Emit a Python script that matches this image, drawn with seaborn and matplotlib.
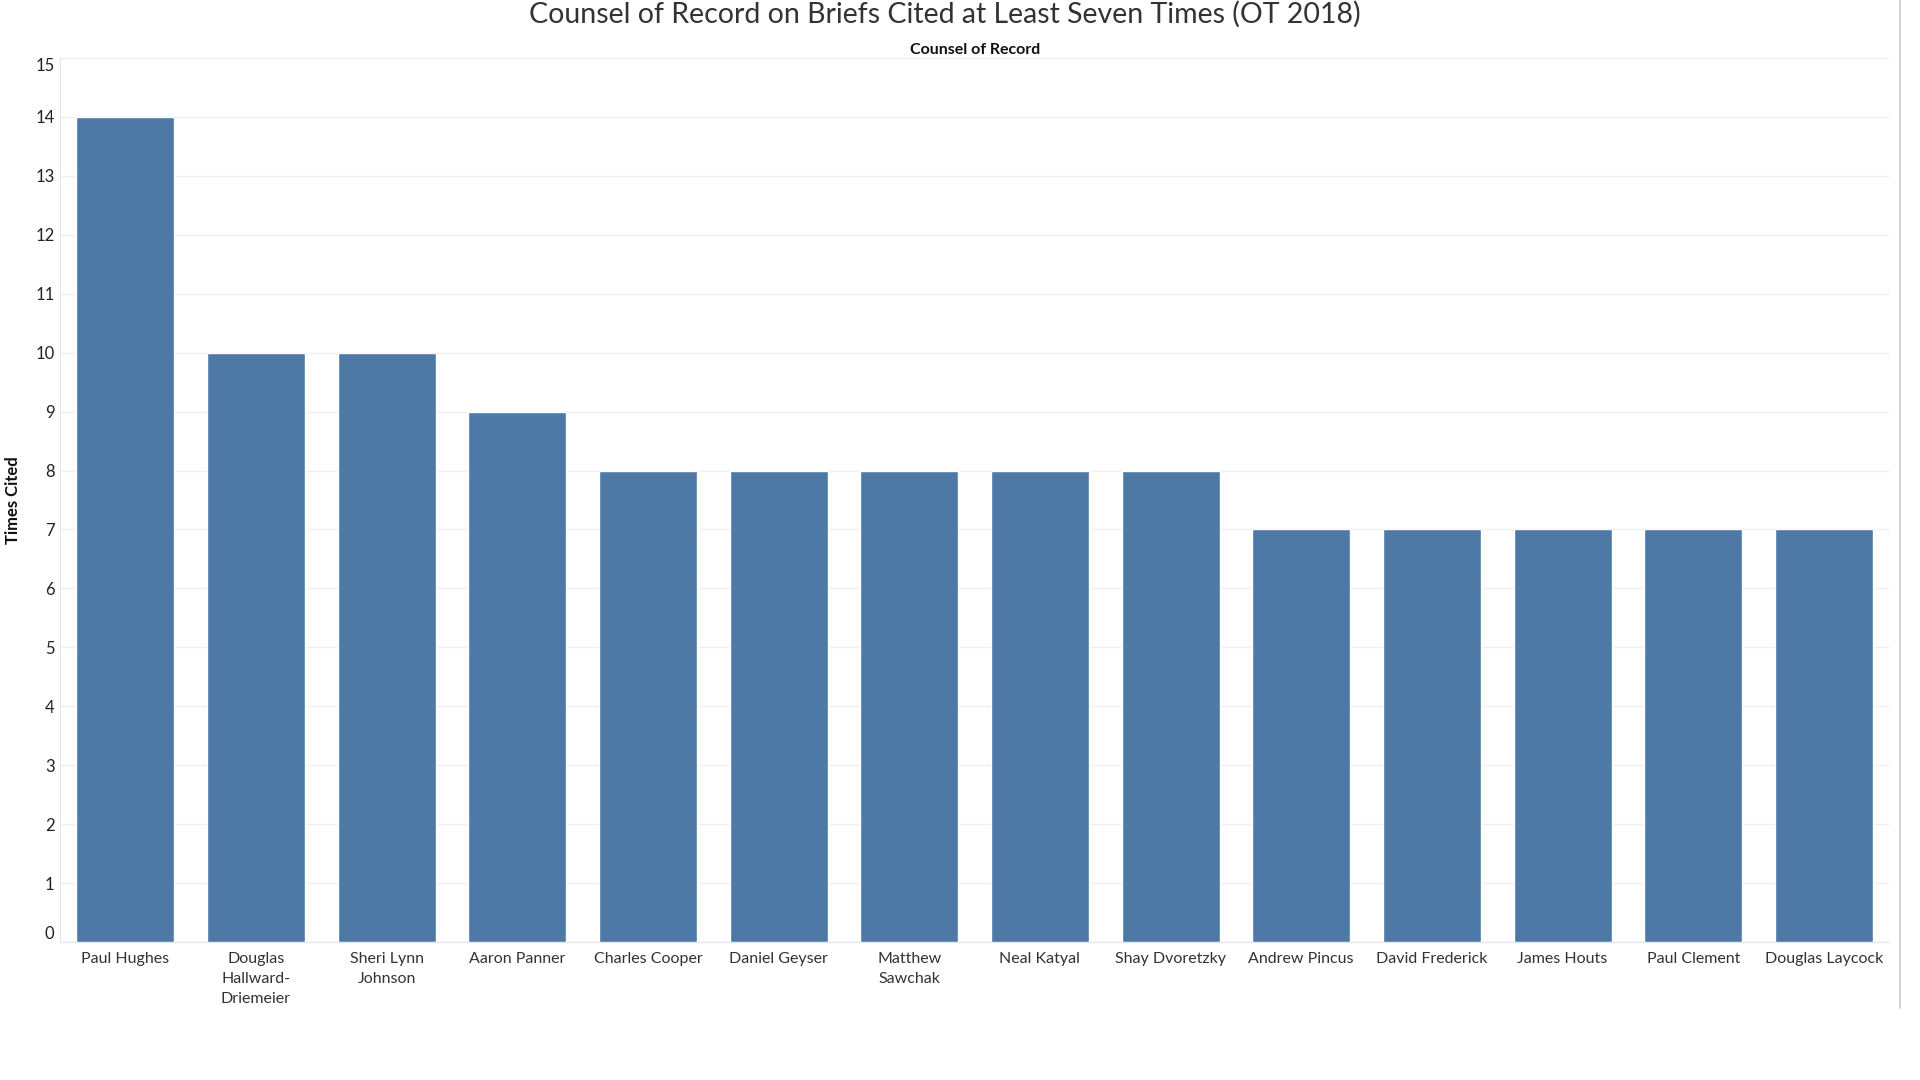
import numpy as np
import pandas as pd
import seaborn as sns
import matplotlib.pyplot as plt
from matplotlib.lines import Line2D

# data
counsel = ['Paul Hughes', 'Douglas\nHallward-\nDriemeier', 'Sheri Lynn\nJohnson', 'Aaron Panner',
           'Charles Cooper', 'Daniel Geyser', 'Matthew\nSawchak', 'Neal Katyal', 'Shay Dvoretzky',
           'Andrew Pincus', 'David Frederick', 'James Houts', 'Paul Clement', 'Douglas Laycock']
times_cited = [14, 10, 10, 9, 8, 8, 8, 8, 8, 7, 7, 7, 7, 7]
y_ticks = list(range(0, 16))

df = pd.DataFrame({'Counsel': counsel, 'Times Cited': times_cited})

sns.set_style("white")
plt.rcParams['font.family'] = ['Lato', 'DejaVu Sans']

fig = plt.figure(figsize=(19.2, 10.8), dpi=100)
ax = fig.add_axes([0.03125, 0.1278, 0.9527, 0.8185])

sns.barplot(data=df, x='Counsel', y='Times Cited', color='#4e79a7', saturation=1,
            width=0.75, ax=ax, zorder=3)

ax.set_ylim(0, 15)
ax.set_xlim(-0.5, len(counsel) - 0.5)
ax.set_yticks(y_ticks)
ax.yaxis.grid(True, color='#efefef', linewidth=1, zorder=0)
ax.tick_params(axis='y', length=0, labelsize=12, labelcolor='#222222', pad=4)
ax.tick_params(axis='x', length=0, labelsize=11.5, labelcolor='#333333', pad=7)
ax.set_xticks(np.arange(-0.5, len(counsel), 1.0), minor=True)
ax.tick_params(axis='x', which='minor', length=6, color='#e6e6e6', width=1)
for lbl in ax.get_xticklabels():
    lbl.set_linespacing(1.55)

# edge tick labels sit inside the axis range, as in the reference
ylabels = ax.get_yticklabels()
ylabels[0].set_verticalalignment('bottom')
ylabels[-1].set_verticalalignment('top')

for s in ['top', 'right']:
    ax.spines[s].set_visible(False)
ax.spines['left'].set_color('#e6e6e6')
ax.spines['bottom'].set_color('#e6e6e6')

ax.set_xlabel('')
ax.set_ylabel('Times Cited', fontweight='bold', fontsize=12, color='#111111')
ax.yaxis.set_label_coords(-0.0215, 0.5)

fig.text(0.492, 0.999, 'Counsel of Record on Briefs Cited at Least Seven Times (OT 2018)',
         ha='center', va='top', fontsize=20.5, color='#333333')
fig.text(0.508, 0.954, 'Counsel of Record', ha='center', va='center', fontsize=11.5,
         fontweight='bold', color='#111111')

# right pane divider
fig.add_artist(Line2D([0.9895, 0.9895], [0.067, 1.0], color='#d4d4d4', linewidth=1.5))

plt.savefig('out.png', dpi=100)
plt.close()
